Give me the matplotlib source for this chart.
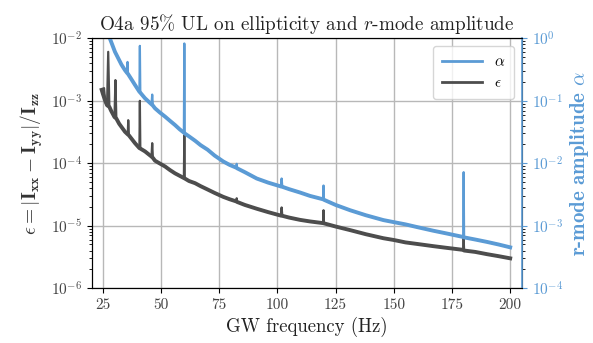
import matplotlib
matplotlib.use("Agg")
import matplotlib.pyplot as plt
import numpy as np

plt.rcParams['font.family'] = 'serif'
plt.rcParams['font.serif'] = ['cmr10']
plt.rcParams['mathtext.fontset'] = 'cm'
plt.rcParams['axes.unicode_minus'] = False
plt.rcParams['axes.formatter.use_mathtext'] = True

# ellipticity upper limit (left axis)
eps_freq = [24.5, 25.0, 25.5, 26.0, 26.8, 27.3, 27.8, 28.5, 30.0, 30.4, 30.8, 32.0, 34.5,
            35.7, 35.9, 36.2, 38.8, 40.7, 40.9, 41.1, 43.1, 45.9, 46.2, 46.5, 47.4, 49.5,
            51.7, 53.8, 56.0, 58.0, 59.8, 60.0, 60.2, 62.0, 64.6, 67.0, 70.0, 73.0, 76.7,
            79.5, 82.3, 82.5, 82.7, 86.0, 91.1, 96.0, 101.5, 101.8, 102.1, 105.0, 109.7,
            114.0, 119.6, 119.8, 120.0, 125.0, 131.2, 138.0, 145.5, 150.0, 155.0, 160.0,
            167.0, 172.0, 179.8, 180.0, 180.2, 185.0, 190.0, 195.0, 200.0]
eps_vals = [1.5e-3, 1.3e-3, 1.6e-3, 1.0e-3, 8.5e-4, 6.1e-3, 8.0e-4, 7.0e-4, 5.5e-4, 2.15e-3,
            5.2e-4, 4.3e-4, 3.2e-4, 2.9e-4, 4.9e-4, 2.8e-4, 2.1e-4, 1.75e-4, 1.0e-3, 1.72e-4,
            1.55e-4, 1.28e-4, 2.1e-4, 1.22e-4, 1.1e-4, 9.9e-5, 8.9e-5, 7.8e-5, 6.9e-5, 6.3e-5,
            5.8e-5, 2.8e-4, 5.7e-5, 5.2e-5, 4.8e-5, 4.3e-5, 3.8e-5, 3.35e-5, 2.9e-5, 2.65e-5,
            2.45e-5, 2.75e-5, 2.4e-5, 2.15e-5, 1.87e-5, 1.65e-5, 1.45e-5, 1.96e-5, 1.44e-5,
            1.35e-5, 1.24e-5, 1.17e-5, 1.1e-5, 1.77e-5, 1.09e-5, 9.7e-6, 8.5e-6, 7.3e-6,
            6.3e-6, 5.9e-6, 5.4e-6, 5.1e-6, 4.7e-6, 4.45e-6, 4.1e-6, 6.3e-6, 4.0e-6, 3.8e-6,
            3.5e-6, 3.25e-6, 3.0e-6]
eps_line_freqs = [25.5, 27.3, 30.4, 35.9, 40.9, 46.2, 60.0, 82.5, 101.8, 119.8, 180.0]

# r-mode amplitude upper limit (right axis)
alpha_freq = [24.5, 26.0, 28.0, 29.0, 30.2, 32.0, 33.0, 34.5, 35.4, 35.6, 35.8, 37.0, 38.8,
              40.7, 40.9, 41.1, 43.1, 45.9, 46.2, 46.5, 47.4, 49.5, 51.7, 53.8, 56.0, 58.0,
              59.8, 60.0, 60.2, 62.0, 64.6, 67.0, 70.0, 73.0, 76.7, 79.5, 82.3, 82.5, 82.7,
              86.0, 91.1, 96.0, 101.5, 101.8, 102.1, 105.0, 109.7, 114.0, 119.6, 119.8, 120.0,
              125.0, 131.2, 138.0, 145.5, 150.0, 155.0, 160.0, 167.0, 172.0, 179.8, 180.0,
              180.2, 185.0, 190.0, 195.0, 200.0]
alpha_vals = [2.2, 1.5, 1.0, 0.8, 0.61, 0.45, 0.38, 0.31, 0.28, 0.42, 0.27, 0.23, 0.18,
              0.14, 0.76, 0.135, 0.11, 0.088, 0.126, 0.084, 0.076, 0.065, 0.056, 0.048, 0.041,
              0.035, 0.031, 0.83, 0.030, 0.027, 0.023, 0.0195, 0.0165, 0.0133, 0.0107, 0.0094,
              0.0085, 0.0098, 0.0083, 0.0072, 5.7e-3, 4.9e-3, 4.25e-3, 5.7e-3, 4.2e-3, 3.85e-3,
              3.4e-3, 3.0e-3, 2.65e-3, 4.4e-3, 2.6e-3, 2.15e-3, 1.77e-3, 1.47e-3, 1.23e-3,
              1.14e-3, 1.05e-3, 9.5e-4, 8.3e-4, 7.6e-4, 6.6e-4, 7.2e-3, 6.5e-4, 6.0e-4, 5.5e-4,
              5.0e-4, 4.5e-4]
alpha_line_freqs = [35.6, 40.9, 46.2, 60.0, 82.5, 101.8, 119.8, 180.0]

xticks = [25, 50, 75, 100, 125, 150, 175, 200]

BLUE = '#5b9bd5'
DARK = '#4d4d4d'

fig = plt.figure(figsize=(5.93, 3.43), dpi=100)
ax = fig.add_axes([0.155, 0.160, 0.725, 0.728])
ax2 = ax.twinx()


def draw(axis, freq, vals, lines, color, label):
    f = np.asarray(freq)
    v = np.asarray(vals)
    peak = np.isin(f, lines)
    axis.plot(f, v, color=color, lw=1.6)
    h, = axis.plot(f[~peak], v[~peak], color=color, lw=2.8, label=label)
    return h


l_eps = draw(ax, eps_freq, eps_vals, eps_line_freqs, DARK, r'$\epsilon$')
l_alpha = draw(ax2, alpha_freq, alpha_vals, alpha_line_freqs, BLUE, r'$\alpha$')

ax.set_yscale('log')
ax2.set_yscale('log')
ax.set_ylim(1e-6, 1e-2)
ax2.set_ylim(1e-4, 1e0)
ax.set_xlim(20.3, 205)
ax.set_xticks(xticks)
ax.set_xticklabels([str(t) for t in xticks])

ax.grid(True, which='major', color='#b8b8b8', lw=1.0)
ax.set_axisbelow(True)

ax.tick_params(axis='both', which='both', labelsize=11, labelcolor='#444444')
ax2.tick_params(axis='y', which='major', labelsize=11, labelcolor=BLUE, color=BLUE)
ax2.spines['right'].set_color(BLUE)
ax2.spines['right'].set_linewidth(1.2)

ax.set_xlabel('GW frequency (Hz)', fontsize=13.5, color='#222222')
ax.set_ylabel(r'$\epsilon = |\mathbf{I_{xx}} - \mathbf{I_{yy}}|/\mathbf{I_{zz}}$',
              fontsize=14, color='#333333')
ax2.set_ylabel(r'r-mode amplitude $\alpha$', fontsize=15, color=BLUE, family='cmb10')
ax.set_title(r'O4a 95% UL on ellipticity and $r$-mode amplitude', fontsize=13.8, color='#222222')

leg = ax2.legend(handles=[l_alpha, l_eps], loc='upper right', fontsize=11, framealpha=0.8,
                 handlelength=2.6, borderpad=0.6)
for line in leg.get_lines():
    line.set_linewidth(2.0)

fig.savefig('out.png', dpi=100)
